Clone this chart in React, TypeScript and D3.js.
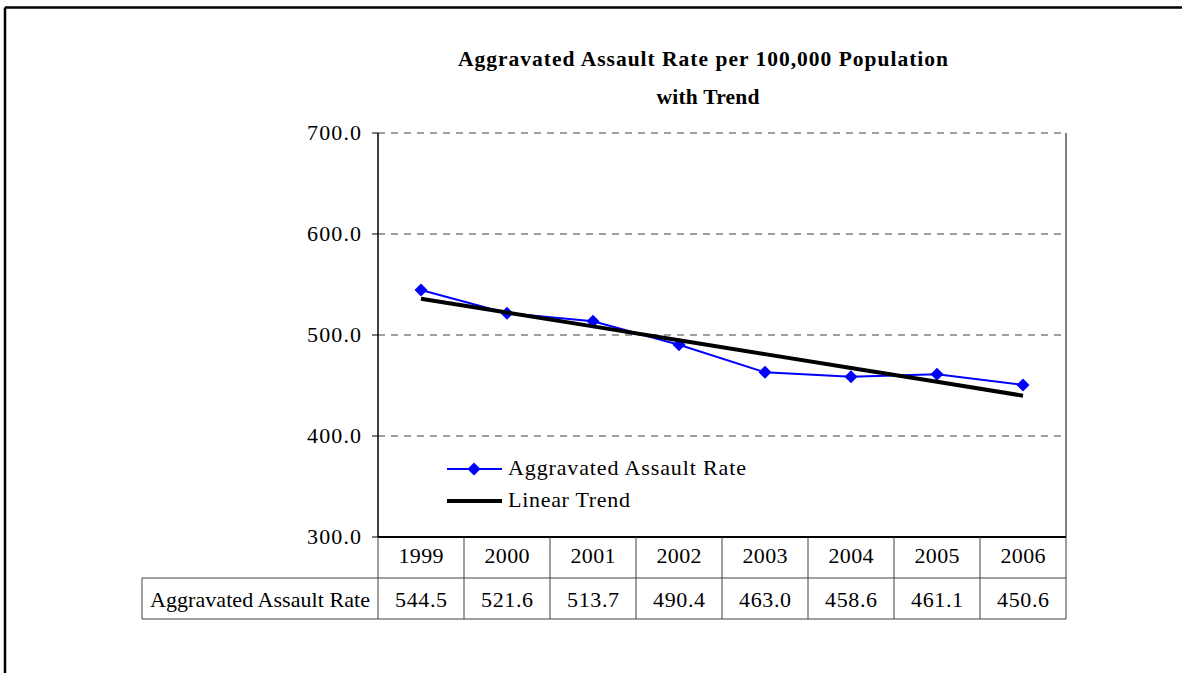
import React from "react";
import * as d3 from "d3";

const years = ["1999", "2000", "2001", "2002", "2003", "2004", "2005", "2006"];
const rates = [544.5, 521.6, 513.7, 490.4, 463.0, 458.6, 461.1, 450.6];
const yTicks = [300, 400, 500, 600, 700];
const seriesName = "Aggravated Assault Rate";
const trendName = "Linear Trend";
const titleLines = ["Aggravated Assault Rate per 100,000 Population", "with Trend"];

const W = 1182;
const H = 673;
const plot = { left: 378, right: 1066, top: 133, bottom: 537 };
const rowH = 41;
const labelLeft = 142;
const FONT = "'Liberation Serif', 'Times New Roman', serif";

export default function App() {
  const x = d3.scaleBand<string>().domain(years).range([plot.left, plot.right]);
  const y = d3.scaleLinear().domain([300, 700]).range([plot.bottom, plot.top]);
  const cx = (d: string) => (x(d) as number) + x.bandwidth() / 2;

  // least-squares linear trend from the data
  const n = rates.length;
  const idx = rates.map((_, i) => i);
  const mx = d3.mean(idx) as number;
  const my = d3.mean(rates) as number;
  const sxy = d3.sum(idx, (i) => (i - mx) * (rates[i] - my));
  const sxx = d3.sum(idx, (i) => (i - mx) * (i - mx));
  const slope = sxy / sxx;
  const icpt = my - slope * mx;
  const trend = idx.map((i) => icpt + slope * i);

  const line = d3
    .line<number>()
    .x((_, i) => cx(years[i]))
    .y((v) => y(v));

  const diamond = (px: number, py: number, r: number) =>
    `M${px},${py - r}L${px + r},${py}L${px},${py + r}L${px - r},${py}Z`;

  const tableColor = "#404040";
  const row1Top = plot.bottom;
  const row2Top = plot.bottom + rowH;
  const row2Bottom = plot.bottom + 2 * rowH;

  return (
    <svg
      width={W}
      height={H}
      style={{ position: "absolute", left: 0, top: 0, background: "#fff" }}
      fontFamily={FONT}
    >
      <rect x={0} y={0} width={W} height={H} fill="#fff" />
      {/* outer border */}
      <line x1={5} y1={7.5} x2={W} y2={7.5} stroke="#000" strokeWidth={2.5} />
      <line x1={5} y1={7.5} x2={5} y2={H} stroke="#000" strokeWidth={2.5} />

      {/* title */}
      <text x={703} y={66} textAnchor="middle" fontWeight="bold" fontSize={21.5} fill="#000"
        textLength={490} lengthAdjust="spacing">
        {titleLines[0]}
      </text>
      <text x={708} y={104} textAnchor="middle" fontWeight="bold" fontSize={21.5} fill="#000"
        textLength={103} lengthAdjust="spacing">
        {titleLines[1]}
      </text>

      {/* gridlines */}
      {yTicks
        .filter((t) => t > 300)
        .map((t) => (
          <line
            key={t}
            x1={plot.left}
            x2={plot.right}
            y1={y(t)}
            y2={y(t)}
            stroke="#808080"
            strokeWidth={1.3}
            strokeDasharray="7,6"
          />
        ))}

      {/* right border of plot */}
      <line x1={plot.right} x2={plot.right} y1={plot.top} y2={plot.bottom} stroke="#000" strokeWidth={1} />
      {/* y axis */}
      <line x1={plot.left} x2={plot.left} y1={plot.top} y2={plot.bottom} stroke="#000" strokeWidth={1.5} />
      {yTicks.map((t) => (
        <g key={t}>
          <line x1={plot.left - 6} x2={plot.left} y1={y(t)} y2={y(t)} stroke="#000" strokeWidth={1} />
          <text x={361} y={y(t) + 7} textAnchor="end" fontSize={22} fill="#000"
            textLength={54} lengthAdjust="spacing">
            {t.toFixed(1)}
          </text>
        </g>
      ))}

      {/* table */}
      <line x1={plot.left} x2={plot.right} y1={row1Top} y2={row1Top} stroke="#000" strokeWidth={2} />
      <line x1={labelLeft} x2={plot.right} y1={row2Top} y2={row2Top} stroke={tableColor} strokeWidth={1} />
      <line x1={labelLeft} x2={plot.right} y1={row2Bottom} y2={row2Bottom} stroke={tableColor} strokeWidth={1} />
      <line x1={labelLeft} x2={labelLeft} y1={row2Top} y2={row2Bottom} stroke={tableColor} strokeWidth={1} />
      {years.map((yr) => (
        <line
          key={yr}
          x1={x(yr) as number}
          x2={x(yr) as number}
          y1={row1Top}
          y2={row2Bottom}
          stroke={tableColor}
          strokeWidth={1}
        />
      ))}
      <line x1={plot.right} x2={plot.right} y1={row1Top} y2={row2Bottom} stroke={tableColor} strokeWidth={1} />
      {years.map((yr, i) => (
        <g key={yr}>
          <text x={cx(yr)} y={row1Top + 26} textAnchor="middle" fontSize={22} fill="#000"
            textLength={45} lengthAdjust="spacing">
            {yr}
          </text>
          <text x={cx(yr)} y={row2Top + 29} textAnchor="middle" fontSize={22} fill="#000"
            textLength={52} lengthAdjust="spacing">
            {rates[i].toFixed(1)}
          </text>
        </g>
      ))}
      <text x={150} y={row2Top + 29} fontSize={22} fill="#000" textLength={220} lengthAdjust="spacing">
        {seriesName}
      </text>

      {/* data line */}
      <path d={line(rates) as string} fill="none" stroke="#0000ff" strokeWidth={2} />
      {rates.map((v, i) => (
        <path key={i} d={diamond(cx(years[i]), y(v), 6.5)} fill="#0000ff" />
      ))}
      {/* trend line */}
      <path d={line(trend) as string} fill="none" stroke="#000" strokeWidth={4} />

      {/* legend */}
      <line x1={447} x2={502} y1={469} y2={469} stroke="#0000ff" strokeWidth={2} />
      <path d={diamond(474, 469, 6.5)} fill="#0000ff" />
      <text x={508} y={475} fontSize={22} fill="#000" textLength={238} lengthAdjust="spacing">
        {seriesName}
      </text>
      <line x1={447} x2={502} y1={501} y2={501} stroke="#000" strokeWidth={4} />
      <text x={508} y={507} fontSize={22} fill="#000" textLength={122} lengthAdjust="spacing">
        {trendName}
      </text>
    </svg>
  );
}
